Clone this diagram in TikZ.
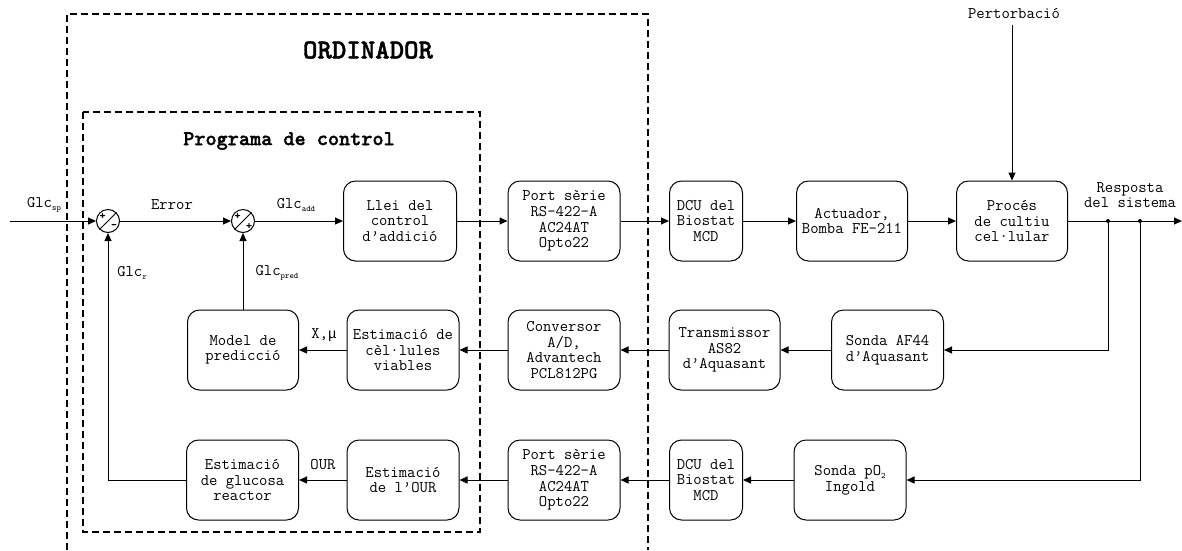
\documentclass[tikz,border=0pt]{standalone}
\usepackage{fontspec}
\newfontfamily\ttbold{lmmonolt10-bold}[Extension=.otf, FakeBold=1.5]
\newfontfamily\grk{Liberation Mono}
\usetikzlibrary{arrows.meta}
\newcommand\sbs[1]{\raisebox{-0.45ex}{\fontsize{8.5}{8.5}\selectfont #1}}
\begin{document}
\begin{tikzpicture}[x=1pt,y=-1pt,
  font=\ttfamily\fontsize{16.2}{15.6}\selectfont,
  blk/.style={draw, line width=1pt, rounded corners=12pt, minimum height=80pt, inner sep=1pt, align=center},
  arr/.style={-{Triangle[length=8pt,width=7pt]}, line width=1pt},
  ln/.style={line width=1pt},
  dbox/.style={line width=1.6pt, dash pattern=on 7pt off 4pt},
  sumc/.style={draw, circle, line width=1pt, minimum size=23pt, inner sep=0pt},
  sgn/.style={inner sep=0pt, font=\ttbold\fontsize{11}{11}\selectfont},
  lbl/.style={inner sep=0pt}]
\useasboundingbox (0,0) rectangle (1182,550);

% dashed frames
\draw[dbox] (67,550) -- (67,14) -- (648,14) -- (648,550);
\draw[dbox] (83,112) rectangle (480,532);
\node[lbl, font=\ttbold\fontsize{27.5}{27.5}\selectfont] (tord) at (368,50) {ORDINADOR};
\node[lbl, font=\ttbold\fontsize{21.2}{21.2}\selectfont] (tprog) at (289,141) {Programa de control};

% summing junctions
\node[sumc] (s1) at (108,221) {};
\draw[ln] (s1.225) -- (s1.45);
\node[sgn] at (102.5,216) {+};
\node[sgn] at (114,226) {-};
\node[sumc] (s2) at (243,221) {};
\draw[ln] (s2.225) -- (s2.45);
\node[sgn] at (237.5,216) {+};
\node[sgn] at (249,226) {+};

% top row
\node[blk, minimum width=113pt] (llei) at (400,221) {Llei del\\control\\d’addició};
\node[blk, minimum width=112pt] (port1) at (564,221) {Port sèrie\\RS-422-A\\AC24AT\\Opto22};
\node[blk, minimum width=73pt] (dcu1) at (706,221) {DCU del\\Biostat\\MCD};
\node[blk, minimum width=111pt] (act) at (852,221) {Actuador,\\Bomba FE-211};
\node[blk, minimum width=111pt] (proc) at (1012,221) {Procés\\de cultiu\\cel·lular};

% middle row
\node[blk, minimum width=111pt] (model) at (243,350) {Model de\\predicció};
\node[blk, minimum width=112pt] (estcel) at (403,350) {Estimació de\\cèl·lules\\viables};
\node[blk, minimum width=112pt] (conv) at (564,350) {Conversor\\A/D,\\Advantech\\PCL812PG};
\node[blk, minimum width=111pt] (trans) at (724.5,350) {Transmissor\\AS82\\d’Aquasant};
\node[blk, minimum width=112pt] (sonda) at (887.5,350) {Sonda AF44\\d’Aquasant};

% bottom row
\node[blk, minimum width=112pt] (estglc) at (242.5,480) {Estimació\\de glucosa\\reactor};
\node[blk, minimum width=112pt] (estour) at (403,480) {Estimació\\de l’OUR};
\node[blk, minimum width=112pt] (port2) at (564,480) {Port sèrie\\RS-422-A\\AC24AT\\Opto22};
\node[blk, minimum width=73pt] (dcu2) at (706,480) {DCU del\\Biostat\\MCD};
\node[blk, minimum width=112pt] (po2) at (850,480) {Sonda pO\sbs{2}\\Ingold};

% coordinates
\coordinate (in) at (10,221);
\coordinate (pert) at (1012,25);
\coordinate (j1) at (1108,221);
\coordinate (j2) at (1140,221);
\coordinate (out) at (1182,221);
\coordinate (fb) at (108,480);

% labels
\node[lbl] (lsp) at (44,205) {Glc\sbs{sp}};
\node[lbl] (lerr) at (172,205) {Error};
\node[lbl] (ladd) at (296,205) {Glc\sbs{add}};
\node[lbl] (lr) at (132,273) {Glc\sbs{r}};
\node[lbl] (lpred) at (277,273) {Glc\sbs{pred}};
\node[lbl] (lxmu) at (324,335) {X,{\grk\fontsize{14.2}{14.2}\selectfont μ}};
\node[lbl] (lour) at (323,465) {OUR};
\node[lbl] (lpert) at (1014,13) {Pertorbació};
\node[lbl, align=center] (lresp) at (1130,195) {Resposta\\del sistema};

% connectors
\draw[arr] (in) -- (s1.west);
\draw[arr] (s1.east) -- (s2.west);
\draw[arr] (s2.east) -- (llei.west);
\draw[arr] (llei.east) -- (port1.west);
\draw[arr] (port1.east) -- (dcu1.west);
\draw[arr] (dcu1.east) -- (act.west);
\draw[arr] (act.east) -- (proc.west);
\draw[arr] (pert) -- (proc.north);
\draw[arr] (proc.east) -- (out);
\fill (j1) circle (2pt);
\fill (j2) circle (2pt);
\draw[arr] (j1) |- (sonda.east);
\draw[arr] (j2) |- (po2.east);
\draw[arr] (sonda.west) -- (trans.east);
\draw[arr] (trans.west) -- (conv.east);
\draw[arr] (conv.west) -- (estcel.east);
\draw[arr] (estcel.west) -- (model.east);
\draw[arr] (model.north) -- (s2.south);
\draw[arr] (po2.west) -- (dcu2.east);
\draw[arr] (dcu2.west) -- (port2.east);
\draw[arr] (port2.west) -- (estour.east);
\draw[arr] (estour.west) -- (estglc.east);
\draw[arr] (estglc.west) -- (fb) -- (s1.south);
\end{tikzpicture}
\end{document}
